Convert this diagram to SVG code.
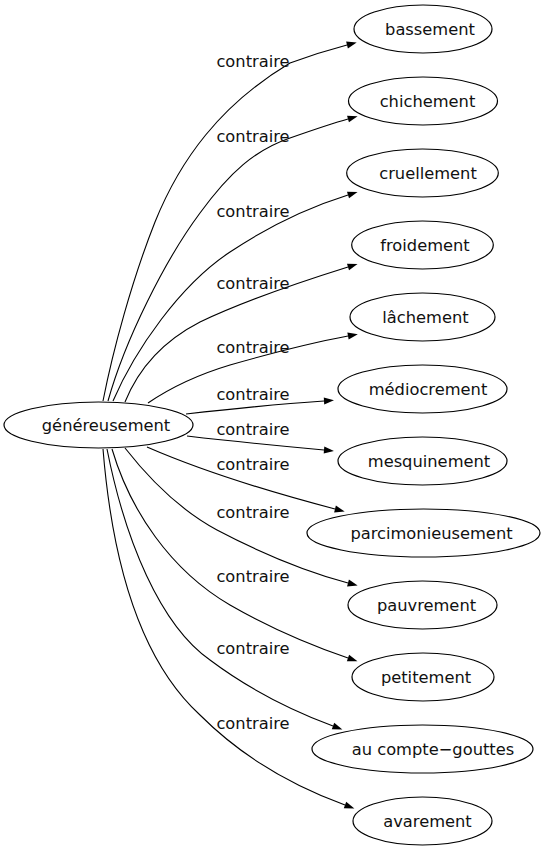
<svg xmlns="http://www.w3.org/2000/svg" width="543" height="851" viewBox="0 0 543 851">
<defs>
<marker id="ah" viewBox="0 0 10 10" refX="0" refY="5" markerWidth="13" markerHeight="10" markerUnits="userSpaceOnUse" orient="auto">
<path d="M0,1.5 L10,5 L0,8.5 Z" fill="#000"/>
</marker>
</defs>
<style>
.n ellipse{fill:none;stroke:#000;stroke-width:1.2}
text{font-family:"DejaVu Sans","Liberation Sans",sans-serif;font-size:16.3px;fill:#111;text-anchor:middle}
#edges path{fill:none;stroke:#000;stroke-width:1.1;marker-end:url(#ah)}
</style>
<rect width="543" height="851" fill="#fff"/>
<g id="edges">
<path d="M103,401 C113,350 132,280 155,222 C180,160 220,105 290,63 C309,56 328,50 347,45"/>
<path d="M108,401 C125,340 165,260 200,213 C230,172 255,150 290,138 C310,131 330,124 348,119"/>
<path d="M113,401 C135,350 180,285 230,252 C260,232 300,210 348,195"/>
<path d="M125,402 C140,365 165,340 200,322 C240,303 300,282 348,267"/>
<path d="M148,403 C170,388 200,374 230,365 C265,355 310,343 348,336"/>
<path d="M186,414 C230,409 280,404 324,401"/>
<path d="M187,436 C230,441 280,446 324,450"/>
<path d="M147,447 C200,470 270,492 335,509"/>
<path d="M125,448 C150,480 180,510 217,530 C255,550 300,570 348,583"/>
<path d="M112,449 C130,510 170,570 230,605 C270,628 310,645 348,658"/>
<path d="M107,449 C125,540 160,625 210,660 C250,690 290,710 333,726"/>
<path d="M103,449 C112,560 140,660 200,715 C240,755 290,785 345,805"/>
</g>
<g id="labels">
<text x="253" y="67">contraire</text>
<text x="253" y="141.5">contraire</text>
<text x="253" y="216.5">contraire</text>
<text x="253" y="288.5">contraire</text>
<text x="253" y="352.5">contraire</text>
<text x="253" y="400">contraire</text>
<text x="253" y="435">contraire</text>
<text x="253" y="469.5">contraire</text>
<text x="253" y="517.5">contraire</text>
<text x="253" y="581.5">contraire</text>
<text x="253" y="654">contraire</text>
<text x="253" y="728.5">contraire</text>
</g>
<g id="genereusement" class="n"><ellipse cx="98.5" cy="425" rx="94.5" ry="23"/><text x="106" y="430.5">généreusement</text></g>
<g id="bassement" class="n"><ellipse cx="423" cy="29" rx="69" ry="24"/><text x="430" y="35">bassement</text></g>
<g id="chichement" class="n"><ellipse cx="423" cy="101" rx="74.5" ry="24"/><text x="427.5" y="107">chichement</text></g>
<g id="cruellement" class="n"><ellipse cx="422.5" cy="173" rx="75.8" ry="24"/><text x="428" y="179">cruellement</text></g>
<g id="froidement" class="n"><ellipse cx="422.5" cy="245" rx="70.8" ry="24"/><text x="425" y="251">froidement</text></g>
<g id="lachement" class="n"><ellipse cx="422.5" cy="317" rx="72.5" ry="24"/><text x="425.5" y="323">lâchement</text></g>
<g id="mediocrement" class="n"><ellipse cx="422.5" cy="389" rx="84.5" ry="24"/><text x="428" y="395">médiocrement</text></g>
<g id="mesquinement" class="n"><ellipse cx="422.5" cy="461" rx="84.5" ry="24"/><text x="429" y="467">mesquinement</text></g>
<g id="parcimonieusement" class="n"><ellipse cx="423.5" cy="533" rx="116.5" ry="24"/><text x="431.5" y="539">parcimonieusement</text></g>
<g id="pauvrement" class="n"><ellipse cx="422.5" cy="605" rx="74.5" ry="24"/><text x="426.5" y="611">pauvrement</text></g>
<g id="petitement" class="n"><ellipse cx="423" cy="677" rx="71" ry="24"/><text x="426" y="683">petitement</text></g>
<g id="au-compte-gouttes" class="n"><ellipse cx="422.5" cy="749" rx="110.5" ry="24"/><text x="433" y="755">au compte−gouttes</text></g>
<g id="avarement" class="n"><ellipse cx="422.5" cy="821" rx="69.5" ry="24"/><text x="427.5" y="827">avarement</text></g>
</svg>
